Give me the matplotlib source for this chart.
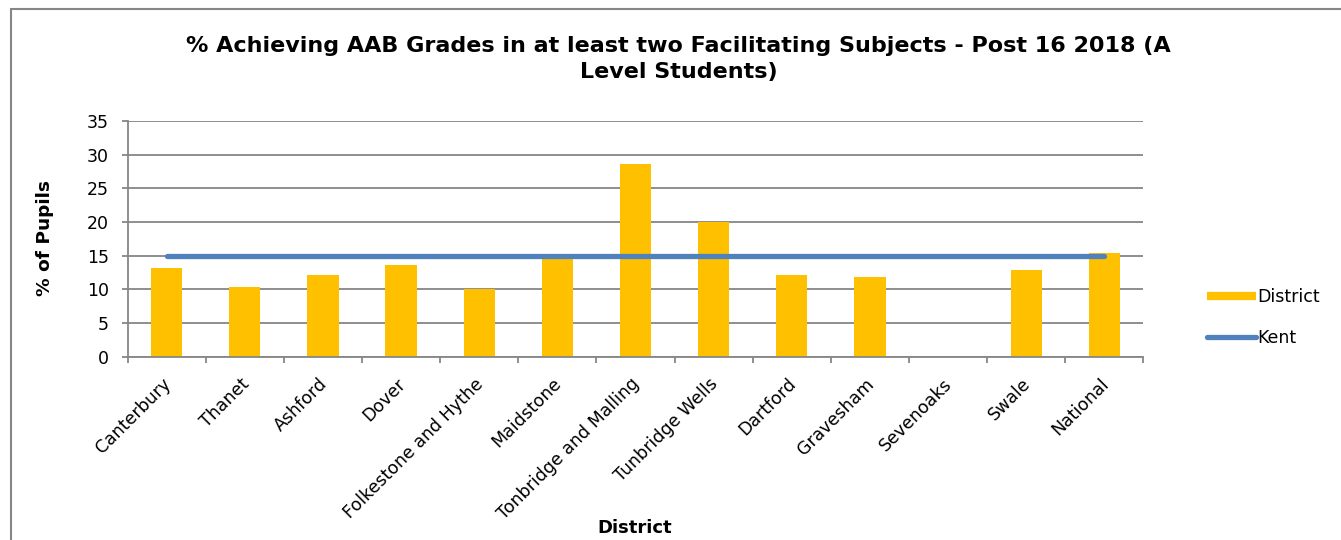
import numpy as np
import matplotlib.pyplot as plt
import matplotlib.transforms as mtransforms
from matplotlib.patches import Rectangle
from matplotlib.lines import Line2D

districts = ['Canterbury', 'Thanet', 'Ashford', 'Dover', 'Folkestone and Hythe',
             'Maidstone', 'Tonbridge and Malling', 'Tunbridge Wells', 'Dartford',
             'Gravesham', 'Sevenoaks', 'Swale', 'National']
district_vals = [13.2, 10.4, 12.1, 13.6, 10.1, 14.8, 28.6, 20.0, 12.2, 11.9, np.nan, 12.9, 15.4]
kent_vals = [15.0] * 13

plt.rcParams['font.family'] = 'DejaVu Sans'

fig = plt.figure(figsize=(13.41, 5.40), dpi=100)
ax = fig.add_axes([0.0951, 0.3394, 0.7576, 0.4366])

x = np.arange(len(districts))
ax.bar(x, district_vals, width=0.4, color='#FFC000', zorder=2)
ax.plot(x, kent_vals, color='#4F81BD', lw=3.8, solid_capstyle='round', zorder=3)

ax.set_xlim(-0.5, len(districts) - 0.5)
ax.set_ylim(0, 35)
ax.set_yticks(range(0, 36, 5))
ax.yaxis.grid(True, color='#868686', lw=1.3, zorder=0)
ax.set_axisbelow(True)

for s in ['top', 'right']:
    ax.spines[s].set_visible(False)
for s in ['left', 'bottom']:
    ax.spines[s].set_color('#868686')
    ax.spines[s].set_linewidth(1.3)

# ticks sit between categories, labels at the centres
ax.set_xticks(np.arange(-0.5, len(districts), 1.0))
ax.set_xticklabels([])
ax.set_xticks(x, minor=True)
ax.set_xticklabels(districts, minor=True, rotation=45, ha='right', rotation_mode='anchor', fontsize=12.5)
ax.tick_params(axis='x', which='minor', length=0, pad=13)
ax.tick_params(axis='x', which='major', length=4.3, color='#868686', width=1.3)
ax.tick_params(axis='y', length=4.3, color='#868686', width=1.3, labelsize=12.5, pad=9)
off = mtransforms.ScaledTranslation(-5 / 100, 0, fig.dpi_scale_trans)
for lab in ax.get_xticklabels(minor=True):
    lab.set_transform(lab.get_transform() + off)

fig.text(45 / 1341, 0.5 - (238 - 270) / 540, '% of Pupils', rotation=90, ha='center', va='center',
         fontsize=13.3, fontweight='bold')
fig.text(0.4735, 0.022, 'District', ha='center', va='center', fontsize=13, fontweight='bold')
fig.text(0.506, 1 - 59 / 540, '% Achieving AAB Grades in at least two Facilitating Subjects - Post 16 2018 (A\nLevel Students)',
         ha='center', va='center', fontsize=16, fontweight='bold', linespacing=1.42)

handles = [Line2D([], [], color='#FFC000', lw=6, solid_capstyle='butt'),
           Line2D([], [], color='#4F81BD', lw=3.8, solid_capstyle='round')]
fig.legend(handles, ['District', 'Kent'], loc='center left', bbox_to_anchor=(0.8885, 0.412),
           frameon=False, fontsize=12.5, handlelength=2.8, handletextpad=0.1, labelspacing=1.3)

fig.patches.append(Rectangle((11 / 1341, -0.1), 1.2, 1.1 - 8.5 / 540, transform=fig.transFigure,
                             fill=False, edgecolor='#868686', lw=1.5, zorder=-1))

fig.savefig('out.png', dpi=100)
